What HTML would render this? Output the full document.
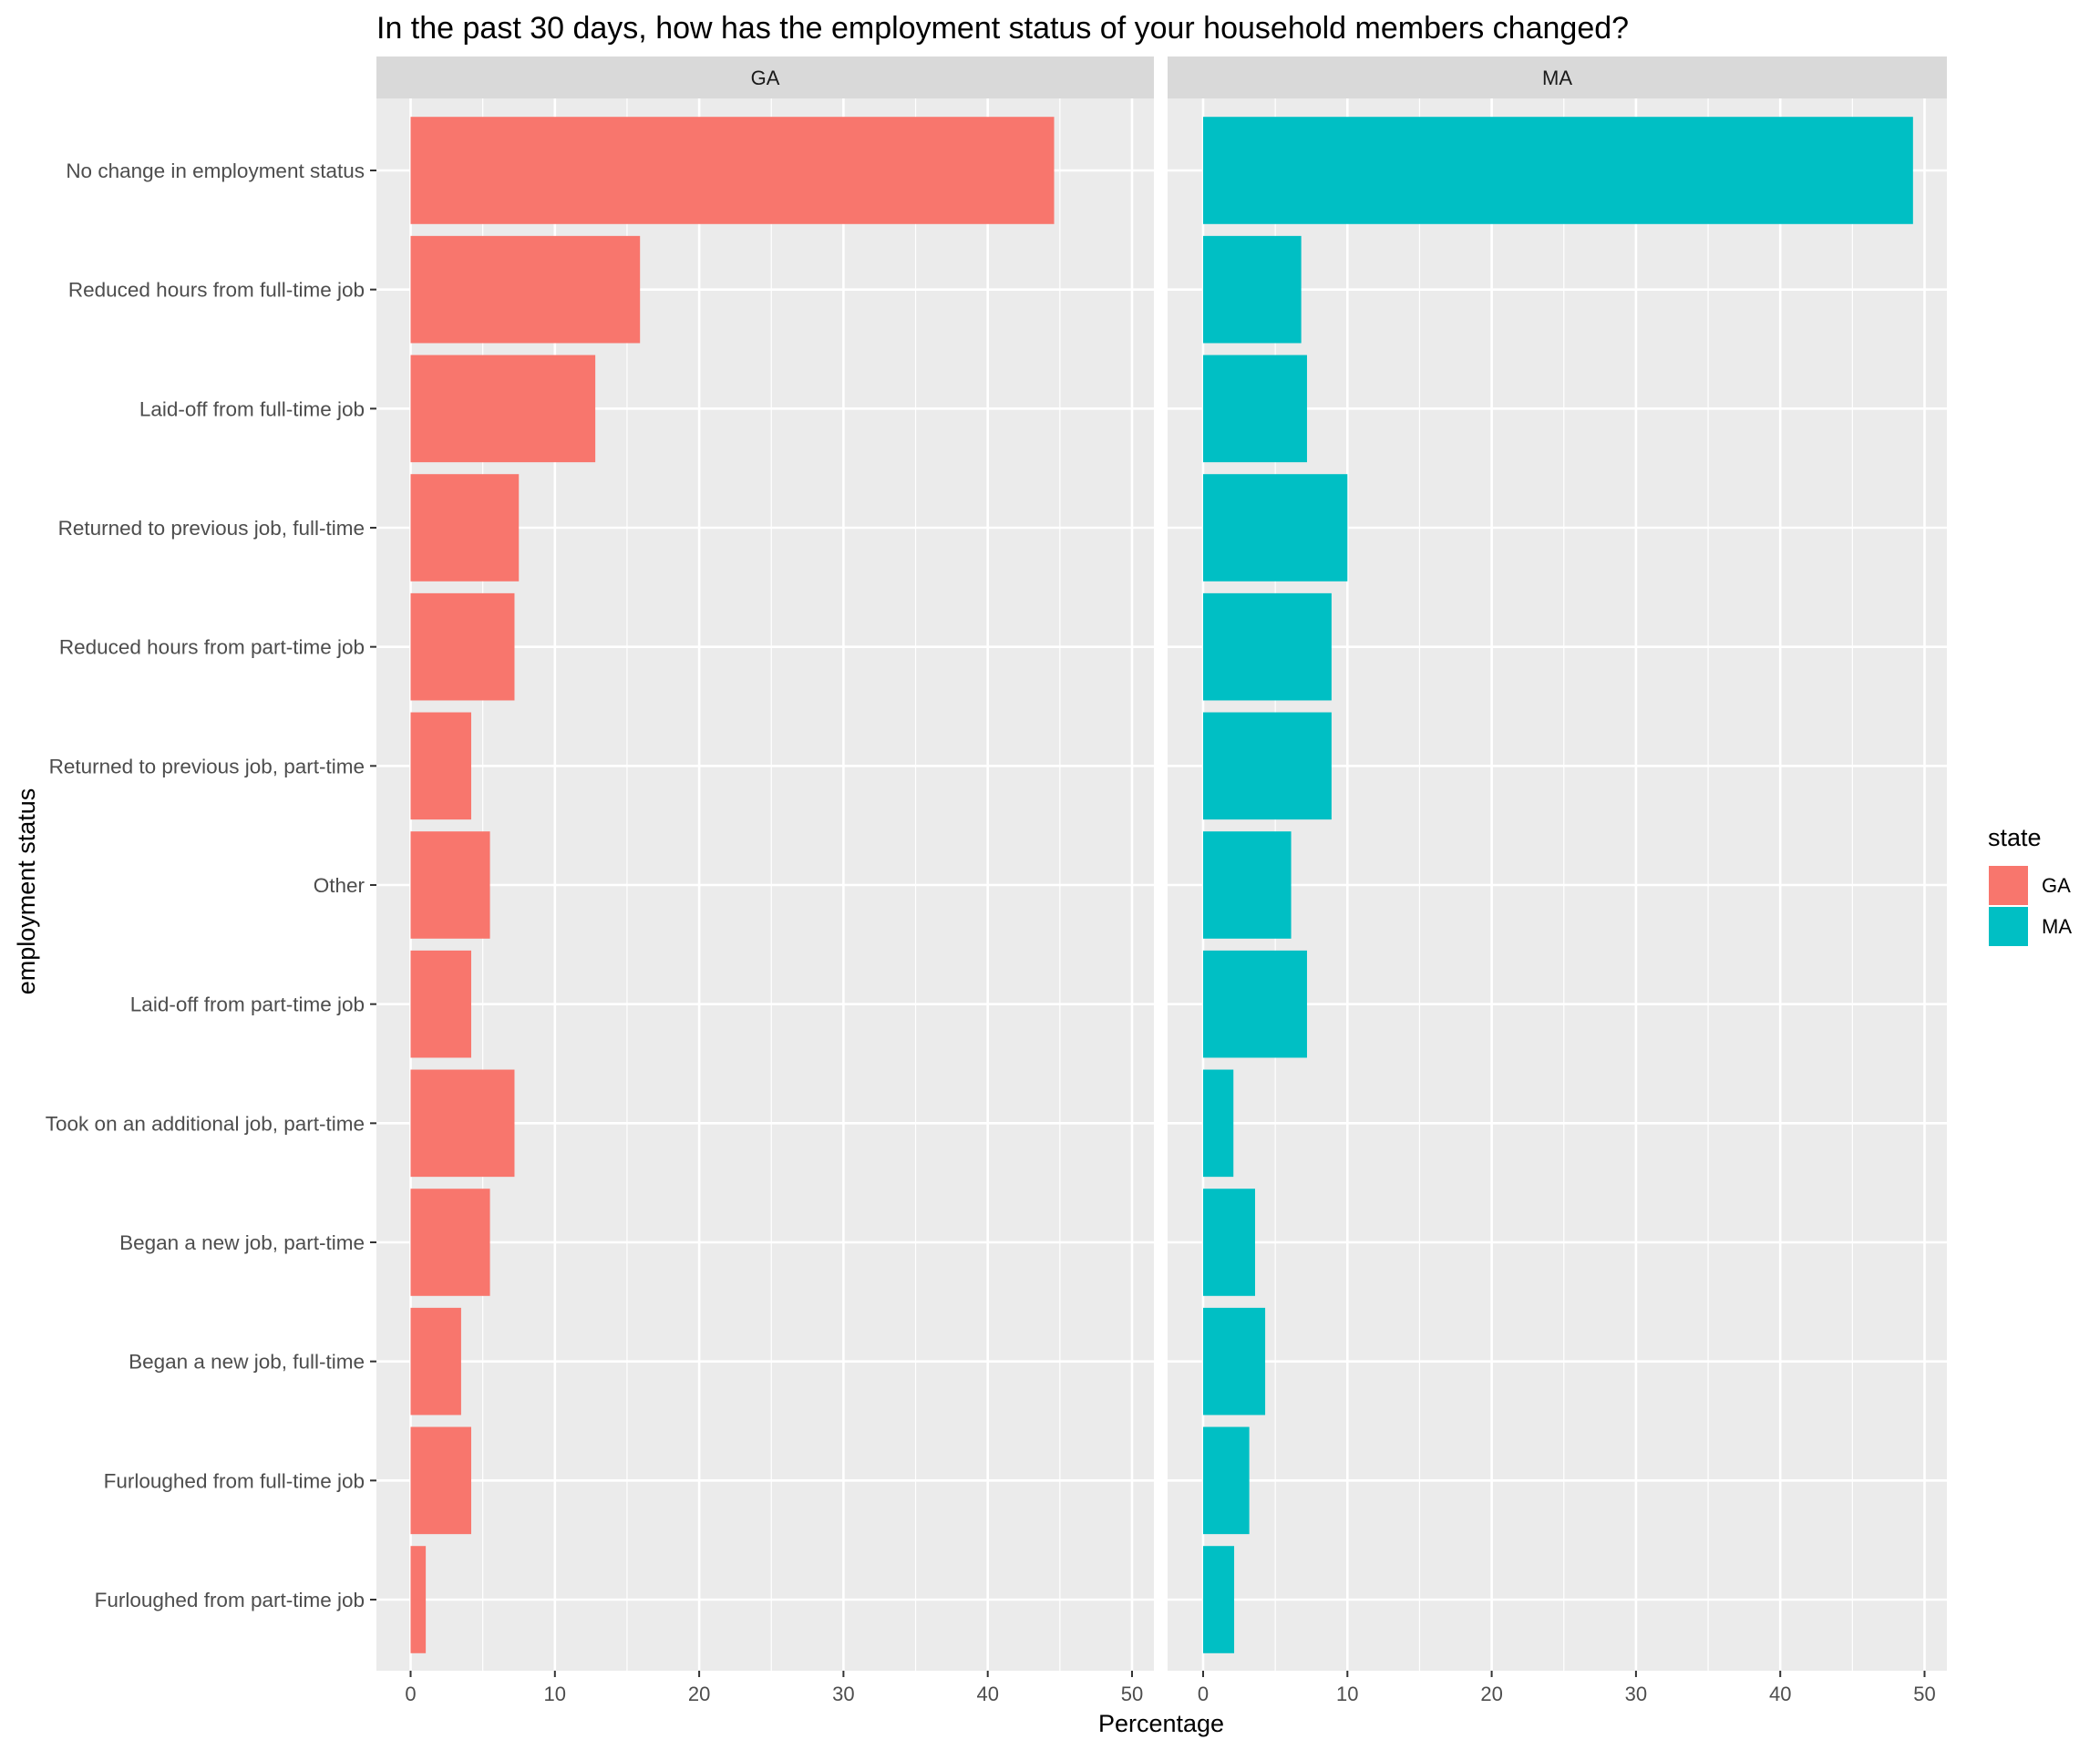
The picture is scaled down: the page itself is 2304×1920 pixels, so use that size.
<!DOCTYPE html>
<html><head><meta charset="utf-8"><style>
html,body{margin:0;padding:0;background:#fff;}
svg{display:block;font-family:"Liberation Sans",Arial,sans-serif;}
</style></head><body>
<svg id="chart" width="2304" height="1920" viewBox="0 0 2304 1920" xmlns="http://www.w3.org/2000/svg">
<text x="413" y="42" font-size="34" fill="#000">In the past 30 days, how has the employment status of your household members changed?</text>
<g id="plot"></g>
<text x="1274" y="1900" font-size="27" text-anchor="middle" fill="#000">Percentage</text>
<text transform="translate(38,978) rotate(-90)" font-size="27" text-anchor="middle" fill="#000">employment status</text>
<g>
<text x="2181" y="928" font-size="27" fill="#000">state</text>
<rect x="2182" y="950" width="43" height="43" fill="#F8766D"/>
<text x="2240" y="979" font-size="22" fill="#000">GA</text>
<rect x="2182" y="995" width="43" height="43" fill="#00BFC4"/>
<text x="2240" y="1024" font-size="22" fill="#000">MA</text>
</g>
</svg>
<script>
const categories = ["No change in employment status","Reduced hours from full-time job","Laid-off from full-time job","Returned to previous job, full-time","Reduced hours from part-time job","Returned to previous job, part-time","Other","Laid-off from part-time job","Took on an additional job, part-time","Began a new job, part-time","Began a new job, full-time","Furloughed from full-time job","Furloughed from part-time job"];
const gaValues = [44.6,15.9,12.8,7.5,7.2,4.2,5.5,4.2,7.2,5.5,3.5,4.2,1.05];
const maValues = [49.2,6.8,7.2,10.0,8.9,8.9,6.1,7.2,2.1,3.6,4.3,3.2,2.15];
const xTicks = [0,10,20,30,40,50];
const xMinor = [5,15,25,35,45];
const panels = ["GA","MA"];

const NS="http://www.w3.org/2000/svg";
const plot=document.getElementById('plot');
function mk(tag,attrs,parent,text){const e=document.createElementNS(NS,tag);for(const k in attrs)e.setAttribute(k,attrs[k]);if(text!==undefined)e.textContent=text;(parent||plot).appendChild(e);return e;}
const plotTop=108,plotBottom=1833,rowTop=187,rowStep=(1755-187)/12,barH=rowStep*0.9;
function yPos(i){return rowTop+i*rowStep;}
const panelDefs=[{left:413,right:1266,x0:450.5,vals:gaValues,color:"#F8766D",name:"ga"},{left:1281,right:2136,x0:1320,vals:maValues,color:"#00BFC4",name:"ma"}];
const unit=15.83;
panelDefs.forEach((p,pi)=>{
  const xs=v=>p.x0+v*unit;
  const g=mk('g',{});
  
  
  const strip=mk('rect',{x:p.left,y:62,width:p.right-p.left,height:46,fill:'#D9D9D9'},g);
  
  
  const st=mk('text',{x:(p.left+p.right)/2,y:93,'font-size':22,'text-anchor':'middle',fill:'#1A1A1A'},g,panels[pi]);
  
  
  const bg=mk('rect',{x:p.left,y:plotTop,width:p.right-p.left,height:plotBottom-plotTop,fill:'#EBEBEB'},g);
  
  
  xMinor.forEach(v=>{const l=mk('line',{x1:xs(v),x2:xs(v),y1:plotTop,y2:plotBottom,stroke:'#fff','stroke-width':1.2},g);});
  xTicks.forEach(v=>{const l=mk('line',{x1:xs(v),x2:xs(v),y1:plotTop,y2:plotBottom,stroke:'#fff','stroke-width':2.6},g);});
  categories.forEach((c,i)=>{const l=mk('line',{x1:p.left,x2:p.right,y1:yPos(i),y2:yPos(i),stroke:'#fff','stroke-width':2.6},g);});
  p.vals.forEach((v,i)=>{const r=mk('rect',{x:xs(0),y:yPos(i)-barH/2,width:Math.max(0,xs(v)-xs(0)),height:barH,fill:p.color},g);
    
    });
  xTicks.forEach(v=>{const t=mk('line',{x1:xs(v),x2:xs(v),y1:plotBottom,y2:plotBottom+7,stroke:'#333','stroke-width':2},g);
    const tl=mk('text',{x:xs(v),y:plotBottom+33,'font-size':22,'text-anchor':'middle',fill:'#4D4D4D'},g,String(v));
    
    });
});
categories.forEach((c,i)=>{
  const t=mk('line',{x1:406,x2:413,y1:yPos(i),y2:yPos(i),stroke:'#333','stroke-width':2});
  
  
  const l=mk('text',{x:400,y:yPos(i)+8,'font-size':22.5,'text-anchor':'end',fill:'#4D4D4D'},plot,c);
  
  
});
</script>
</body></html>
